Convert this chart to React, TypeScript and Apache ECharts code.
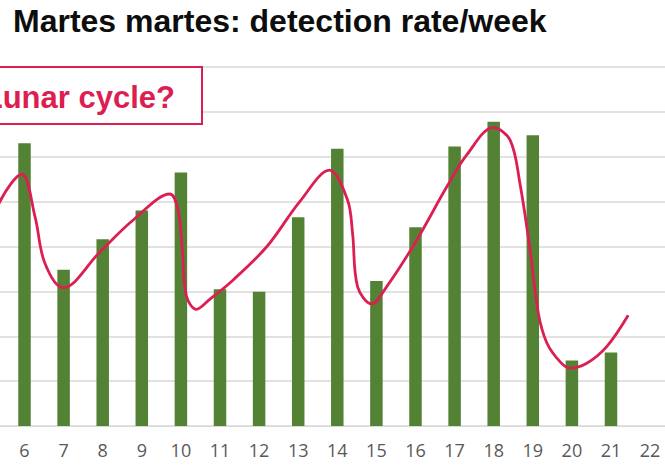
import React, { useEffect, useRef } from "react";
import * as echarts from "echarts";

const weeks = ["5", "6", "7", "8", "9", "10", "11", "12", "13", "14", "15", "16", "17", "18", "19", "20", "21", "22"];
const detectionRate = [0.5, 0.63, 0.348, 0.416, 0.48, 0.565, 0.305, 0.299, 0.465, 0.618, 0.323, 0.443, 0.623, 0.678, 0.648, 0.146, 0.164, null];

// hand-drawn trend curve: [week position, rate]
const trendX = [5.07, 5.37, 5.93, 6.27, 6.52, 6.99, 7.93, 8.78, 9.72, 9.93, 10.04, 10.14, 10.4, 10.72, 11.33, 12.2, 13.04, 13.8, 14.26, 14.39, 14.52, 14.88, 15.26, 16.03, 16.8, 17.31, 17.99, 18.42, 18.67, 18.93, 19.14, 19.36, 19.7, 19.95, 20.38, 20.89, 21.44];
const trendY = [0.414, 0.5, 0.561, 0.466, 0.363, 0.308, 0.388, 0.459, 0.517, 0.48, 0.39, 0.29, 0.26, 0.281, 0.325, 0.4, 0.5, 0.57, 0.504, 0.43, 0.31, 0.272, 0.31, 0.414, 0.533, 0.604, 0.665, 0.637, 0.541, 0.392, 0.252, 0.185, 0.143, 0.129, 0.14, 0.177, 0.247];

const titleText = "Martes martes: detection rate/week";
const noteText = "Lunar cycle?";

export default function App() {
  const ref = useRef<HTMLDivElement>(null);
  useEffect(() => {
    if (!ref.current) return;
    const chart = echarts.init(ref.current, null, { renderer: "svg" });
    const red = "#dc1f52";
    chart.setOption({
      animation: false,
      backgroundColor: "#ffffff",
      grid: {
        left: -34.15,
        width: 703.8,
        top: 67,
        bottom: 42,
        containLabel: false,
        outerBoundsMode: "none",
      },
      xAxis: [
        {
          type: "category",
          data: weeks,
          boundaryGap: true,
          axisTick: { show: false },
          axisLine: { lineStyle: { color: "#d9d9d9", width: 1 } },
          axisLabel: {
            color: "#595959",
            fontSize: 18,
            fontFamily: "Open Sans",
            margin: 15,
            interval: (index: number) => index > 0,
          },
        },
        {
          type: "value",
          min: 4.5,
          max: 22.5,
          show: false,
        },
      ],
      yAxis: {
        type: "value",
        min: 0,
        max: 0.8,
        interval: 0.1,
        axisLabel: { show: false },
        axisLine: { show: false },
        axisTick: { show: false },
        splitLine: { lineStyle: { color: "#d9d9d9", width: 1.5 } },
      },
      series: [
        {
          type: "bar",
          data: detectionRate,
          barWidth: 12.5,
          itemStyle: { color: "#548235" },
          xAxisIndex: 0,
        },
        {
          type: "line",
          xAxisIndex: 1,
          data: trendX.map((x, i) => [x, trendY[i]]),
          smooth: 0.35,
          showSymbol: false,
          lineStyle: { color: red, width: 2.8 },
          z: 5,
        },
      ],
      graphic: [
        {
          type: "text",
          x: 13,
          y: 21,
          style: {
            text: titleText,
            fill: "#0d0d0d",
            fontSize: 32,
            fontWeight: "bold",
            fontFamily: "Liberation Sans, Arial, sans-serif",
            verticalAlign: "middle",
            align: "left",
          },
        },
        {
          type: "rect",
          z: 50,
          shape: { x: -5, y: 67, width: 207, height: 57 },
          style: { fill: "#ffffff", stroke: red, lineWidth: 2 },
        },
        {
          type: "text",
          z: 51,
          x: 175,
          y: 97,
          style: {
            text: noteText,
            fill: red,
            fontSize: 31,
            fontWeight: "bold",
            fontFamily: "Liberation Sans, Arial, sans-serif",
            verticalAlign: "middle",
            align: "right",
          },
        },
      ],
    });
    return () => chart.dispose();
  }, []);
  return <div ref={ref} style={{ width: 665, height: 468, position: "absolute", left: 0, top: 0 }} />;
}
